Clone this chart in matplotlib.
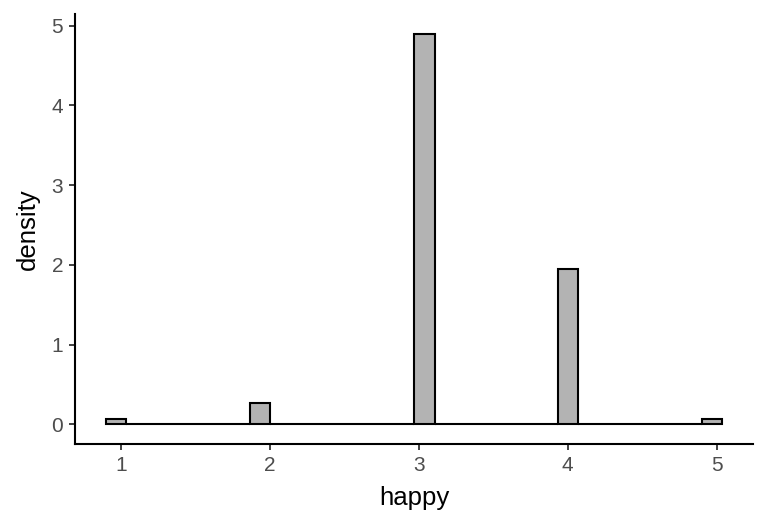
import numpy             as np
import matplotlib.pyplot as plt

plt.rcParams['font.family'] = ['Liberation Sans', 'DejaVu Sans']

# histogram layout (30 bins) and the densities
n_bins      = 30
bin_width   = 4 / 29
first_center= 0.968
filled_bins = [0, 7, 15, 22, 29]              # bins holding happy = 1..5
density     = [0.063, 0.267, 4.90, 1.943, 0.063]
xticks      = [1, 2, 3, 4, 5]
yticks      = [0, 1, 2, 3, 4, 5]

centers = first_center + np.arange(n_bins) * bin_width
heights = np.zeros(n_bins)
heights[filled_bins] = density

fig = plt.figure(figsize=(7.68, 5.28), dpi=100)
ax  = fig.add_axes([75/768, 84/528, 678/768, 430/528])

ax.bar(centers, heights, width=bin_width, color='#B3B3B3', edgecolor='black', linewidth=1.5)

lo, hi = centers[0] - bin_width/2, centers[-1] + bin_width/2
pad = 0.05 * (hi - lo)
ax.set_xlim(lo - pad, hi + pad)
ymax = max(density)
ax.set_ylim(-0.05*ymax, 1.05*ymax)

ax.set_xticks(xticks)
ax.set_yticks(yticks)
ax.tick_params(axis='both', labelsize=15, labelcolor='#4D4D4D', color='#333333',
               length=4.5, width=1.3, pad=4)

for s in ['top', 'right']:
    ax.spines[s].set_visible(False)
for s in ['left', 'bottom']:
    ax.spines[s].set_linewidth(1.5)
    ax.spines[s].set_color('black')

ax.set_xlabel('happy', fontsize=18.5, labelpad=8)
ax.set_ylabel('density', fontsize=18.5, labelpad=8)

plt.savefig('out.png', dpi=100)
